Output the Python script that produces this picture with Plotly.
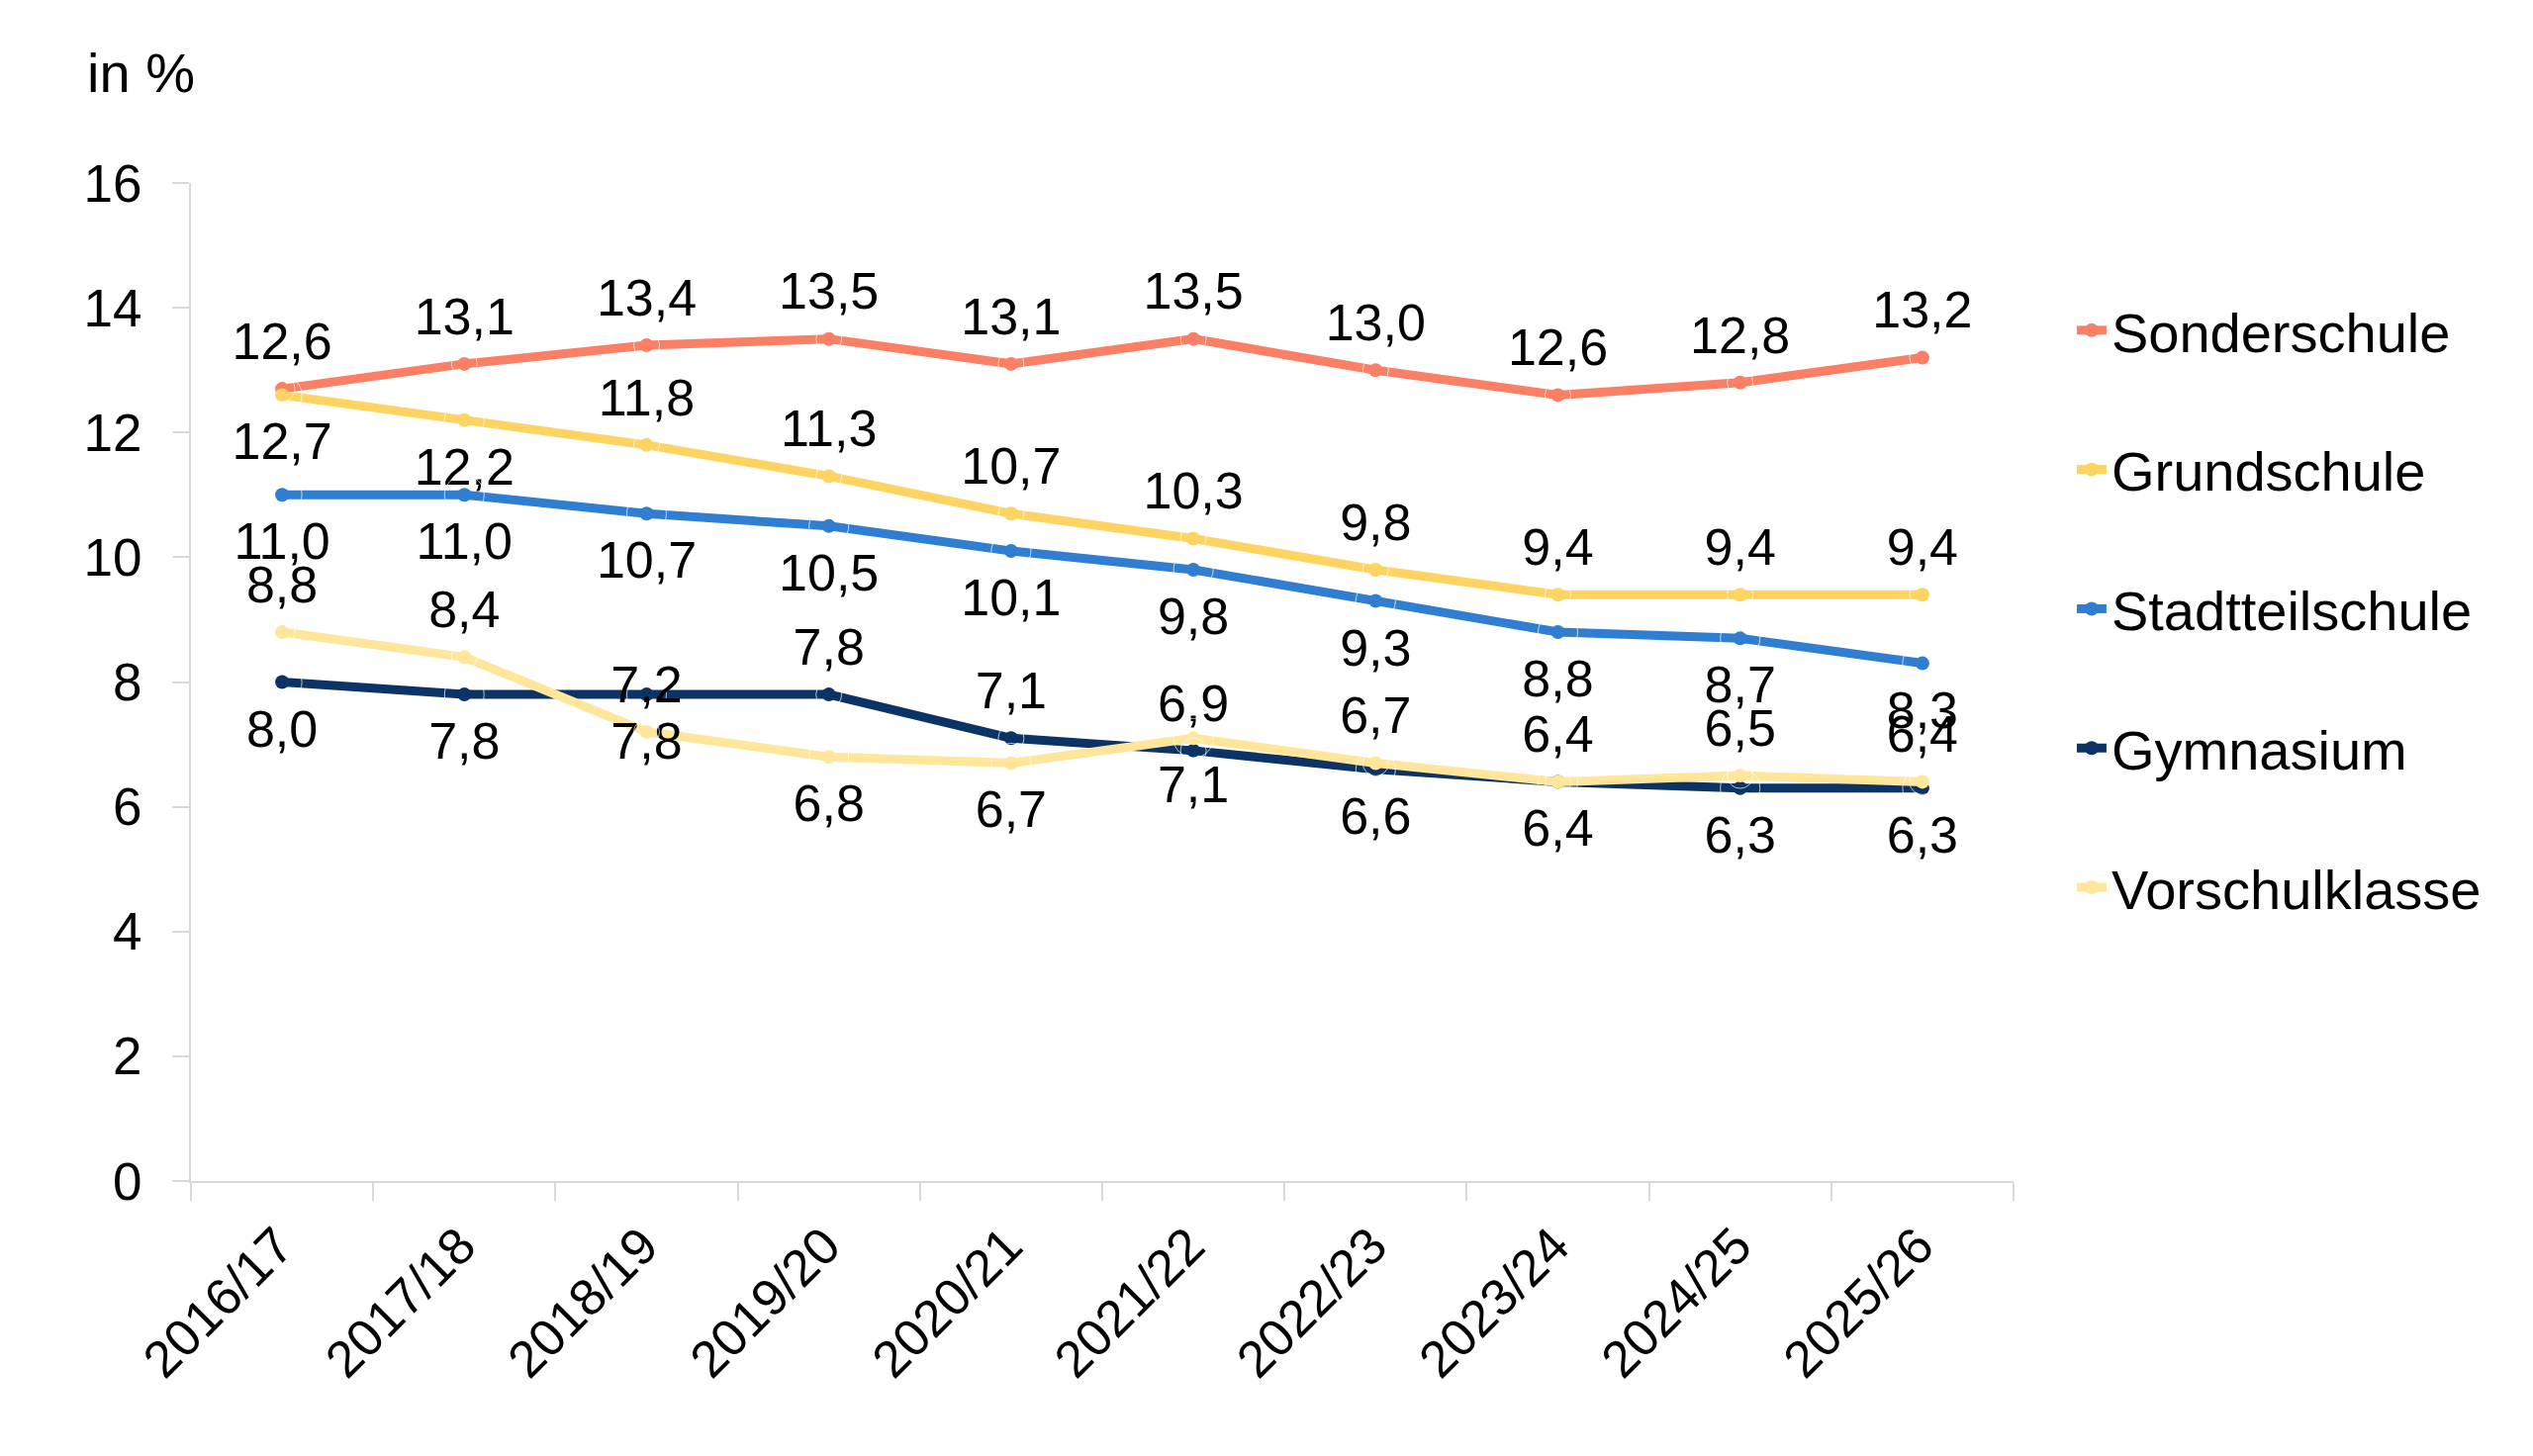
import plotly.graph_objects as go

years = ["2016/17", "2017/18", "2018/19", "2019/20", "2020/21",
         "2021/22", "2022/23", "2023/24", "2024/25", "2025/26"]

sonderschule = [12.7, 13.1, 13.4, 13.5, 13.1, 13.5, 13.0, 12.6, 12.8, 13.2]
grundschule = [12.6, 12.2, 11.8, 11.3, 10.7, 10.3, 9.8, 9.4, 9.4, 9.4]
stadtteilschule = [11.0, 11.0, 10.7, 10.5, 10.1, 9.8, 9.3, 8.8, 8.7, 8.3]
gymnasium = [8.0, 7.8, 7.8, 7.8, 7.1, 6.9, 6.6, 6.4, 6.3, 6.3]
vorschulklasse = [8.8, 8.4, 7.2, 6.8, 6.7, 7.1, 6.7, 6.4, 6.5, 6.4]

# data labels as printed in the chart
sonderschule_labels = ["12,6", "13,1", "13,4", "13,5", "13,1", "13,5", "13,0", "12,6", "12,8", "13,2"]
grundschule_labels = ["12,7", "12,2", "11,8", "11,3", "10,7", "10,3", "9,8", "9,4", "9,4", "9,4"]
stadtteilschule_labels = ["11,0", "11,0", "10,7", "10,5", "10,1", "9,8", "9,3", "8,8", "8,7", "8,3"]
gymnasium_labels = ["8,0", "7,8", "7,8", "7,8", "7,1", "6,9", "6,6", "6,4", "6,3", "6,3"]
vorschulklasse_labels = ["8,8", "8,4", "7,2", "6,8", "6,7", "7,1", "6,7", "6,4", "6,5", "6,4"]

T, B = "top center", "bottom center"
series = [
    ("Sonderschule", sonderschule, sonderschule_labels, "#FA7F64", [T] * 10),
    ("Grundschule", grundschule, grundschule_labels, "#FDD462", [B, B] + [T] * 8),
    ("Stadtteilschule", stadtteilschule, stadtteilschule_labels, "#2F7ED2", [B] * 10),
    ("Gymnasium", gymnasium, gymnasium_labels, "#0B3366", [B, B, B, T, T, T, B, B, B, B]),
    ("Vorschulklasse", vorschulklasse, vorschulklasse_labels, "#FFE69A", [T, T, T, B, B, B, T, T, T, T]),
]

FONT = "Liberation Sans, Arial, sans-serif"
TOP_PAD, BOTTOM_PAD = 26, 40  # invisible marker sizes that set label offsets

fig = go.Figure()
for i, (name, vals, labels, color, pos) in enumerate(series):
    fig.add_trace(go.Scatter(
        x=years, y=vals, name=name, mode="lines+markers",
        line=dict(color=color, width=9),
        marker=dict(color=color, size=14),
        legendgroup=f"g{i}", cliponaxis=False,
    ))
for i, (name, vals, labels, color, pos) in enumerate(series):
    fig.add_trace(go.Scatter(
        x=years, y=vals, name=name, mode="markers+text",
        marker=dict(color="rgba(0,0,0,0)",
                    size=[TOP_PAD if p == T else BOTTOM_PAD for p in pos]),
        text=labels, textposition=pos,
        textfont=dict(family=FONT, size=52, color="black"),
        showlegend=False, hoverinfo="skip", legendgroup=f"g{i}",
        cliponaxis=False,
    ))

fig.update_layout(
    width=2560, height=1472,
    paper_bgcolor="white", plot_bgcolor="white",
    margin=dict(l=185, r=533, t=177, b=286),
    font=dict(family=FONT, size=52, color="black"),
    showlegend=True,
    legend=dict(
        x=1.032, y=0.895, xanchor="left", yanchor="top",
        font=dict(family=FONT, size=56, color="black"),
        tracegroupgap=65, itemwidth=30, bgcolor="rgba(0,0,0,0)",
    ),
    xaxis=dict(
        type="category", range=[-0.5, 9.5],
        showline=True, linecolor="#D9D9D9", linewidth=2,
        ticks="outside", tickson="boundaries", ticklen=18, tickcolor="#D9D9D9", tickwidth=2,
        tickangle=-45, tickfont=dict(family=FONT, size=52, color="black"),
        ticklabelshift=-4, ticklabelstandoff=12,
        showgrid=False, zeroline=False,
    ),
    yaxis=dict(
        range=[0, 16], dtick=2, tick0=0,
        showline=True, linecolor="#D9D9D9", linewidth=2,
        ticks="outside", ticklen=17, tickcolor="#D9D9D9", tickwidth=2,
        tickfont=dict(family=FONT, size=53, color="black"),
        ticklabelstandoff=20,
        showgrid=False, zeroline=False,
    ),
    annotations=[dict(
        text="in %", xref="paper", yref="paper", x=-0.058, y=1.111,
        xanchor="left", yanchor="middle", showarrow=False,
        font=dict(family=FONT, size=56, color="black"),
    )],
)

fig.write_html("out.html")
